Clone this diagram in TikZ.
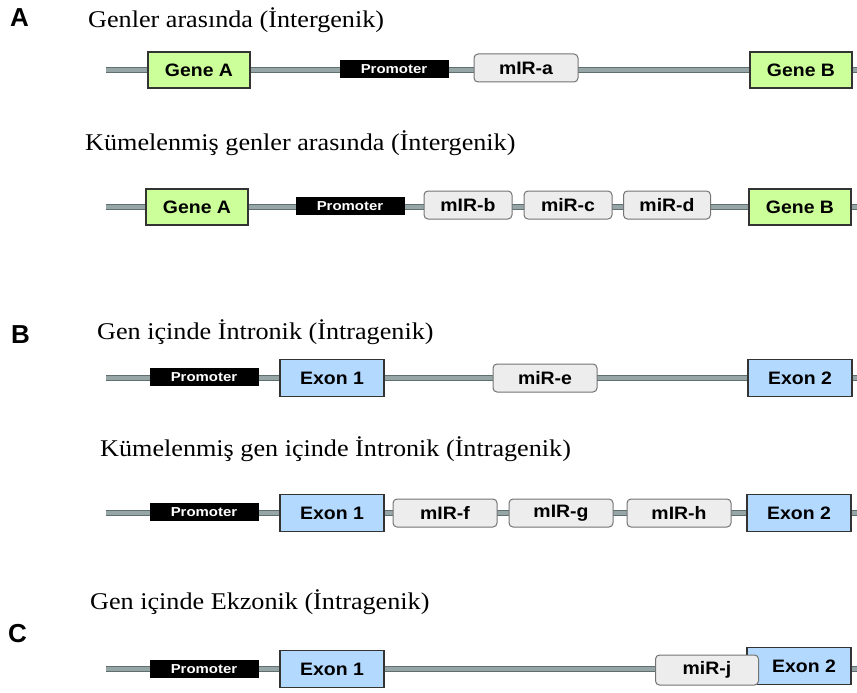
\documentclass[tikz,border=0pt]{standalone}
\usepackage{fontspec}
\setmainfont{Liberation Serif}
\newfontfamily\arial{Liberation Sans}
\newcommand{\wide}[1]{\scalebox{1.08}[1]{#1}}
\newcommand{\twide}[1]{\scalebox{1.09}[1]{#1}}
\newcommand{\pwide}[1]{\scalebox{1.15}[1]{#1}}
\begin{document}
\begin{tikzpicture}[x=1pt,y=-1pt,
  backbone/.style={draw={rgb,255:red,95;green,110;blue,110}, line width=0.9pt, double={rgb,255:red,150;green,166;blue,166}, double distance=3.6pt},
  boxfont/.style={font=\arial\bfseries\fontsize{18}{18}\selectfont},
  gene/.style={boxfont, draw=black!80, line width=1.4pt, fill={rgb,255:red,204;green,255;blue,153}, minimum width=102pt, minimum height=36pt, inner sep=0pt},
  exon/.style={boxfont, draw=black!80, line width=1.4pt, fill={rgb,255:red,179;green,217;blue,255}, minimum width=104pt, minimum height=37pt, inner sep=0pt},
  prom/.style={fill=black, draw=black, minimum width=108pt, minimum height=17pt, inner sep=0pt, text=white, font=\arial\bfseries\fontsize{13}{13}\selectfont},
  mir/.style={boxfont, draw=black!55, line width=1pt, fill=black!7, rounded corners=4pt, minimum width=104pt, minimum height=28pt, inner sep=0pt},
  title/.style={anchor=base west, inner sep=0pt, font=\fontsize{24}{24}\selectfont},
  letter/.style={anchor=base west, inner sep=0pt, font=\arial\bfseries\fontsize{26}{26}\selectfont}
]
\useasboundingbox (0,0) rectangle (857,693);
% letters and titles
\node[letter] (la) at (10,27) {A};
\node[letter] (lb) at (11,343) {B};
\node[letter] (lc) at (8,642) {C};
\node[title] (t1) at (88,28) {\twide{Genler arasında (İntergenik)}};
\node[title] (t2) at (85,150) {\twide{Kümelenmiş genler arasında (İntergenik)}};
\node[title] (t3) at (97,339) {\twide{Gen içinde İntronik (İntragenik)}};
\node[title] (t4) at (100,456) {\twide{Kümelenmiş gen içinde İntronik (İntragenik)}};
\node[title] (t5) at (90,609) {\twide{Gen içinde Ekzonik (İntragenik)}};
% row 1
\coordinate (s1) at (106,70); \coordinate (e1) at (857,70);
\draw[backbone] (s1) -- (e1);
\node[gene] (ga1) at (199,70) {\wide{Gene A}};
\node[prom] (p1) at (394,69) {\pwide{Promoter}};
\node[mir] (ma) at (526,68) {\wide{mIR-a}};
\node[gene] (gb1) at (801,70) {\wide{Gene B}};
% row 2
\coordinate (s2) at (106,207); \coordinate (e2) at (857,207);
\draw[backbone] (s2) -- (e2);
\node[gene] (ga2) at (197,207) {\wide{Gene A}};
\node[prom] (p2) at (350,206) {\pwide{Promoter}};
\node[mir, minimum width=88pt] (mb) at (468,205) {\wide{mIR-b}};
\node[mir, minimum width=88pt] (mc) at (568,205) {\wide{miR-c}};
\node[mir, minimum width=87pt] (md) at (667,205) {\wide{miR-d}};
\node[gene] (gb2) at (800,207) {\wide{Gene B}};
% row 3
\coordinate (s3) at (106,378); \coordinate (e3) at (857,378);
\draw[backbone] (s3) -- (e3);
\node[prom] (p3) at (204,377) {\pwide{Promoter}};
\node[exon] (x31) at (332,378) {\wide{Exon 1}};
\node[mir] (me) at (545,378) {\wide{miR-e}};
\node[exon] (x32) at (800,378) {\wide{Exon 2}};
% row 4
\coordinate (s4) at (106,513); \coordinate (e4) at (857,513);
\draw[backbone] (s4) -- (e4);
\node[prom] (p4) at (204,512) {\pwide{Promoter}};
\node[exon] (x41) at (332,513) {\wide{Exon 1}};
\node[mir] (mf) at (445,513) {\wide{mIR-f}};
\node[mir] (mg) at (561,513) {\wide{mIR-g}};
\node[mir] (mh) at (679,513) {\wide{mIR-h}};
\node[exon] (x42) at (799,513) {\wide{Exon 2}};
% row 5
\coordinate (s5) at (106,669); \coordinate (e5) at (857,669);
\draw[backbone] (s5) -- (e5);
\node[prom] (p5) at (204,669) {\pwide{Promoter}};
\node[exon] (x51) at (332,669) {\wide{Exon 1}};
\node[exon] (x52) at (799,666) {\hspace*{10pt}\wide{Exon 2}};
\node[mir, minimum width=103pt, minimum height=30pt] (mj) at (707,670) {\wide{miR-j}};
\end{tikzpicture}
\end{document}
